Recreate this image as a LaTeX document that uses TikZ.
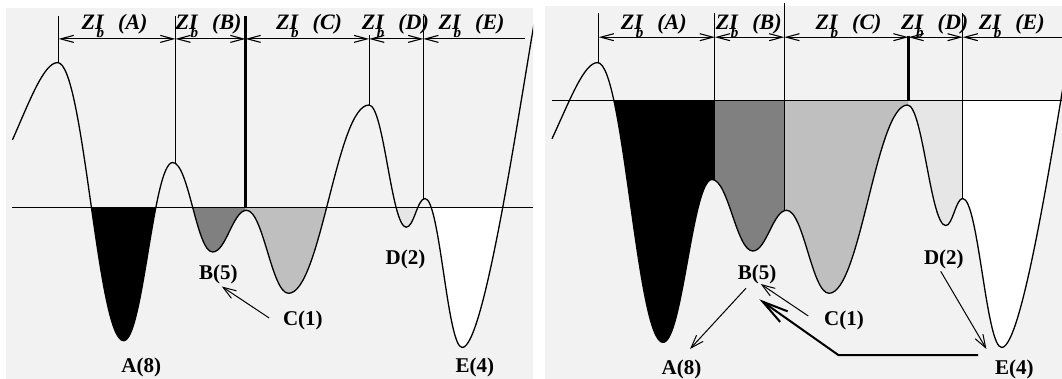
\documentclass[tikz,border=0pt]{standalone}
\usepackage{fontspec}
\setmainfont{Liberation Serif}
\usetikzlibrary{arrows.meta}
\definecolor{bgc}{HTML}{F2F2F2}
\definecolor{gA}{HTML}{808080}
\definecolor{gB}{HTML}{BFBFBF}
\definecolor{gC}{HTML}{E6E6E6}
\newcommand{\zil}[1]{\fontsize{22}{24}\selectfont\bfseries\itshape ZI\kern-7pt\raisebox{-8pt}{\fontsize{15}{15}\selectfont b}\kern14pt(#1)}
\def\curveL{(12.5,139.8) .. controls (30,100) and (44,62.6) .. (57.6,62.6)
 .. controls (84,62.6) and (97.2,340.7) .. (123.6,340.7)
 .. controls (143.2,340.7) and (153.1,162.5) .. (172.7,162.5)
 .. controls (188.7,162.5) and (196.6,252) .. (212.6,252)
 .. controls (226.2,252) and (232.9,210.3) .. (246.5,210.3)
 .. controls (263.3,210.3) and (271.7,293.3) .. (288.5,293.3)
 .. controls (320.7,293.3) and (336.8,105) .. (369,105)
 .. controls (383.9,105) and (391.4,227.2) .. (406.3,227.2)
 .. controls (413.8,227.2) and (417.5,198.5) .. (425,198.5)
 .. controls (439.9,198.5) and (447.3,347.5) .. (462.2,347.5)
 .. controls (484,347.5) and (518,116.5) .. (535,18)}
\def\curveR{(552,138.8) .. controls (570,100) and (584,62.6) .. (597.5,62.6)
 .. controls (623.7,62.6) and (636.8,342.4) .. (663,342.4)
 .. controls (682.6,342.4) and (692.4,179.5) .. (712,179.5)
 .. controls (728.3,179.5) and (736.5,251) .. (752.8,251)
 .. controls (766.3,251) and (773.1,210.3) .. (786.6,210.3)
 .. controls (803.6,210.3) and (812,293.3) .. (829,293.3)
 .. controls (860.4,293.3) and (876.1,105) .. (907.5,105)
 .. controls (922.8,105) and (930.5,225.6) .. (945.8,225.6)
 .. controls (952.6,225.6) and (955.9,198.5) .. (962.7,198.5)
 .. controls (978.3,198.5) and (986.1,347.5) .. (1001.7,347.5)
 .. controls (1023.5,347.5) and (1057.5,116.5) .. (1074.5,18)}
\newcommand{\wellL}[3]{\begin{scope}\clip (#2,207.6) rectangle (#3,379);
 \fill[#1] \curveL -- (535,-50) -- (12.5,-50) -- cycle;\end{scope}}
\newcommand{\wellR}[3]{\begin{scope}\clip (#2,100.6) rectangle (#3,379);
 \fill[#1] \curveR -- (1074.5,-50) -- (552,-50) -- cycle;\end{scope}}
\begin{document}
\begin{tikzpicture}[x=1pt,y=-1pt,
  curveln/.style={line width=1.3pt, line join=round},
  thinln/.style={line width=1pt},
  thickln/.style={line width=2.8pt},
  baseln/.style={line width=1.4pt},
  dimln/.style={line width=1.1pt, >={Straight Barb[length=13pt,width=7pt]}},
  dimlab/.style={anchor=base west, inner sep=0pt},
  lab/.style={anchor=base west, inner sep=0pt, font=\fontsize{21}{24}\selectfont\bfseries},
  conn/.style={line width=1pt, -{Straight Barb[length=13pt,width=9pt]}},
  bigconn/.style={line width=2pt, line join=miter, -{Straight Barb[length=26pt,width=13pt]}}]
\useasboundingbox (0,0) rectangle (1062,379);
% ---------- left panel
\fill[bgc] (6,8.3) rectangle (533,379);
\wellL{black}{58.6}{175.4}
\wellL{gA}{175.4}{245.5}
\wellL{gB}{245.5}{369.1}
\wellL{gC}{369.1}{423.3}
\wellL{white}{423.3}{533}
\begin{scope}\clip (6,8.3) rectangle (533,379);
\draw[curveln] \curveL;
\end{scope}
\draw[baseln] (11.9,207.6) -- (533,207.6);
\draw[thinln] (58.6,16.3) -- (58.6,62.6);
\draw[thinln] (175.4,16.3) -- (175.4,163);
\draw[thickln] (245.5,16.3) -- (245.5,207.6);
\draw[thinln] (369.1,35.5) -- (369.1,105);
\draw[thinln] (423.3,16.3) -- (423.3,199);
\coordinate (la) at (58.6,38.9);
\coordinate (lb) at (175.4,38.9);
\coordinate (lc) at (245.5,38.9);
\coordinate (ld) at (369.1,38.9);
\coordinate (le) at (423.3,38.9);
\coordinate (lf) at (524.8,38.9);
\draw[dimln,<->] (la) -- (lb);
\draw[dimln,<->] (lb) -- (lc);
\draw[dimln,<->] (lc) -- (ld);
\draw[dimln,<->] (ld) -- (le);
\draw[dimln,<-] (le) -- (lf);
\node[dimlab] (lzA) at (81.5,30) {\zil{A}};
\node[dimlab] (lzB) at (175.5,30) {\zil{B}};
\node[dimlab] (lzC) at (276,30) {\zil{C}};
\node[dimlab] (lzD) at (361.7,30) {\zil{D}};
\node[dimlab] (lzE) at (438.5,30) {\zil{E}};
\node[lab] (lB5) at (199,279.7) {B(5)};
\node[lab] (lC1) at (282.8,325.5) {C(1)};
\node[lab] (lD2) at (385.4,264.5) {D(2)};
\node[lab] (lA8) at (121.2,372.9) {A(8)};
\node[lab] (lE4) at (455.5,372.9) {E(4)};
\draw[conn] ([shift={(-13.6,-7.5)}]lC1.base west) -- ([shift={(22.8,6.8)}]lB5.base west);
% ---------- right panel
\fill[bgc] (545,6) rectangle (1062,379);
\wellR{black}{598.7}{714.9}
\wellR{gA}{714.9}{784.3}
\wellR{gB}{784.3}{908.5}
\wellR{gC}{908.5}{962.7}
\wellR{white}{962.7}{1062}
\begin{scope}\clip (545,6) rectangle (1062,379);
\draw[curveln] \curveR;
\end{scope}
\draw[baseln] (552,100.6) -- (1062,100.6);
\draw[thinln] (598.7,13.5) -- (598.7,62.6);
\draw[thinln] (714.9,13.5) -- (714.9,180);
\draw[thinln] (784.3,3) -- (784.3,210.5);
\draw[thickln] (908.5,36) -- (908.5,100.6);
\draw[thinln] (962.7,13.5) -- (962.7,198.5);
\coordinate (ra) at (598.7,37.2);
\coordinate (rb) at (714.9,37.2);
\coordinate (rc) at (784.3,37.2);
\coordinate (rd) at (908.5,37.2);
\coordinate (re) at (962.7,37.2);
\coordinate (rf) at (1062,37.2);
\draw[dimln,<->] (ra) -- (rb);
\draw[dimln,<->] (rb) -- (rc);
\draw[dimln,<->] (rc) -- (rd);
\draw[dimln,<->] (rd) -- (re);
\draw[dimln,<-] (re) -- (rf);
\node[dimlab] (rzA) at (620.7,30) {\zil{A}};
\node[dimlab] (rzB) at (715.6,30) {\zil{B}};
\node[dimlab] (rzC) at (815.5,30) {\zil{C}};
\node[dimlab] (rzD) at (901,30) {\zil{D}};
\node[dimlab] (rzE) at (978.7,30) {\zil{E}};
\node[lab] (rB5) at (737.6,279.7) {B(5)};
\node[lab] (rC1) at (823.9,325.5) {C(1)};
\node[lab] (rD2) at (923.8,264.5) {D(2)};
\node[lab] (rA8) at (661.4,374.6) {A(8)};
\node[lab] (rE4) at (995,374.6) {E(4)};
\draw[conn] ([shift={(8.4,8.5)}]rB5.base west) -- ([shift={(28.6,-25.6)}]rA8.base west);
\draw[conn] ([shift={(-15.6,-9.5)}]rC1.base west) -- ([shift={(23.1,4.3)}]rB5.base west);
\draw[bigconn] ([shift={(-17,-19.6)}]rE4.base west) -- ++(-139.7,0) -- ([shift={(21.7,19.6)}]rB5.base west);
\draw[conn] ([shift={(16.9,6.8)}]rD2.base west) -- ([shift={(-8.6,-25.6)}]rE4.base west);
\end{tikzpicture}
\end{document}
